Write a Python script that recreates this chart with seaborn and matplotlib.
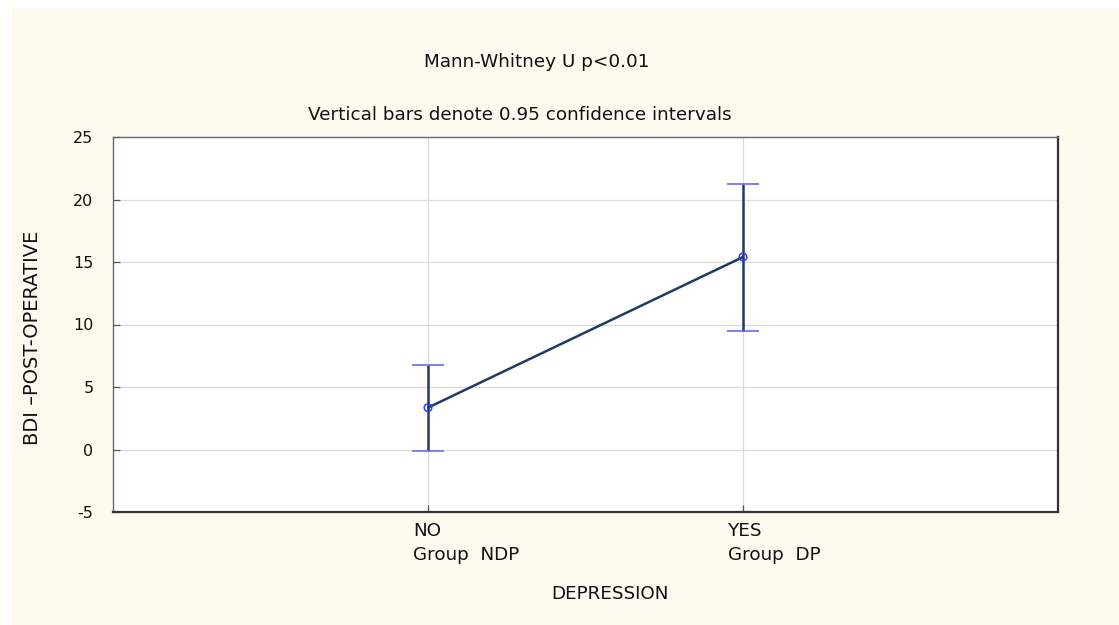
import matplotlib
matplotlib.use("Agg")
import matplotlib.pyplot as plt
import matplotlib.transforms as mtransforms
from matplotlib.patches import Rectangle
import seaborn as sns
import pandas as pd

# Group means of BDI post-operative score with 95% confidence limits
groups = ["NO\nGroup  NDP", "YES\nGroup  DP"]
means = [3.35, 15.4]
ci_low = [-0.15, 9.45]
ci_high = [6.75, 21.25]
y_ticks = [-5, 0, 5, 10, 15, 20, 25]

sns.set_theme(style="white")
plt.rcParams["font.family"] = ["DejaVu Sans"]

cream = "#FFFAF0"
navy = "#1F3A64"
blue = "#3A3AF0"
txt = "#111111"
fs = 13.2

fig = plt.figure(figsize=(11.19, 6.25), dpi=100)
fig.patch.set_facecolor("white")
fig.add_artist(Rectangle((12 / 1119, 0), 1, 1 - 8 / 625, transform=fig.transFigure,
                         facecolor=cream, edgecolor="none", zorder=-10))

ax = fig.add_axes([113 / 1119, 1 - 512 / 625, (1058 - 113) / 1119, (512 - 137) / 625])
ax.set_facecolor("white")

df = pd.DataFrame({"pos": range(len(groups)), "mean": means})

for i in range(len(groups)):
    ax.axvline(i, color="#DCDCDC", lw=0.9, zorder=0)
for t in y_ticks[1:-1]:
    ax.axhline(t, color="#DCDCDC", lw=0.9, zorder=0)

# Confidence interval bars
lower = [m - lo for m, lo in zip(means, ci_low)]
upper = [hi - m for m, hi in zip(means, ci_high)]
ax.errorbar(df["pos"], df["mean"], yerr=[lower, upper], fmt="none",
            ecolor=navy, elinewidth=1.8, capsize=0, zorder=2)
for i in range(len(groups)):
    ax.plot([i], [ci_low[i]], marker="_", ms=23, mew=1.2, color="#6A6AF2", zorder=3)
    ax.plot([i], [ci_high[i]], marker="_", ms=23, mew=1.2, color="#6A6AF2", zorder=3)

sns.lineplot(data=df, x="pos", y="mean", ax=ax, color=navy, lw=1.8, zorder=3)
sns.scatterplot(data=df, x="pos", y="mean", ax=ax, marker="o", s=30,
                facecolor="none", edgecolor=blue, linewidth=1.1, zorder=4)

ax.set_xlim(-1, 2)
ax.set_ylim(-5, 25)
ax.set_yticks(y_ticks)
ax.set_yticklabels([str(t) for t in y_ticks], fontsize=11.5, color=txt)
ax.set_xticks(range(len(groups)))
ax.set_xticklabels(groups, fontsize=fs, ha="left", color=txt, linespacing=1.45)

ax.tick_params(axis="both", direction="in", length=5, width=0.9, color="#555555",
               bottom=True, left=True)
ax.tick_params(axis="y", pad=14)
ax.tick_params(axis="x", pad=7)

# Shift category labels so they start slightly left of their tick
offset = mtransforms.ScaledTranslation(-15 / 100, 0, fig.dpi_scale_trans)
for lbl in ax.get_xticklabels():
    lbl.set_transform(lbl.get_transform() + offset)

ax.set_xlabel("")
ax.set_ylabel("")
for side in ["left", "top"]:
    ax.spines[side].set_color("#666666")
    ax.spines[side].set_linewidth(1.0)
for side in ["right", "bottom"]:
    ax.spines[side].set_color("#333333")
    ax.spines[side].set_linewidth(1.6)

fig.text(537 / 1119, 1 - 62 / 625, "Mann-Whitney U p<0.01", ha="center", va="center",
         fontsize=fs, color=txt)
fig.text(520 / 1119, 1 - 115 / 625, "Vertical bars denote 0.95 confidence intervals",
         ha="center", va="center", fontsize=fs, color=txt)
fig.text(610 / 1119, 1 - 594 / 625, "DEPRESSION", ha="center", va="center",
         fontsize=fs, color=txt)
fig.text(33 / 1119, 1 - 338 / 625, "BDI \u2013POST-OPERATIVE", ha="center", va="center",
         rotation=90, fontsize=14, color=txt)

fig.savefig("out.png", dpi=100, facecolor=fig.get_facecolor())
